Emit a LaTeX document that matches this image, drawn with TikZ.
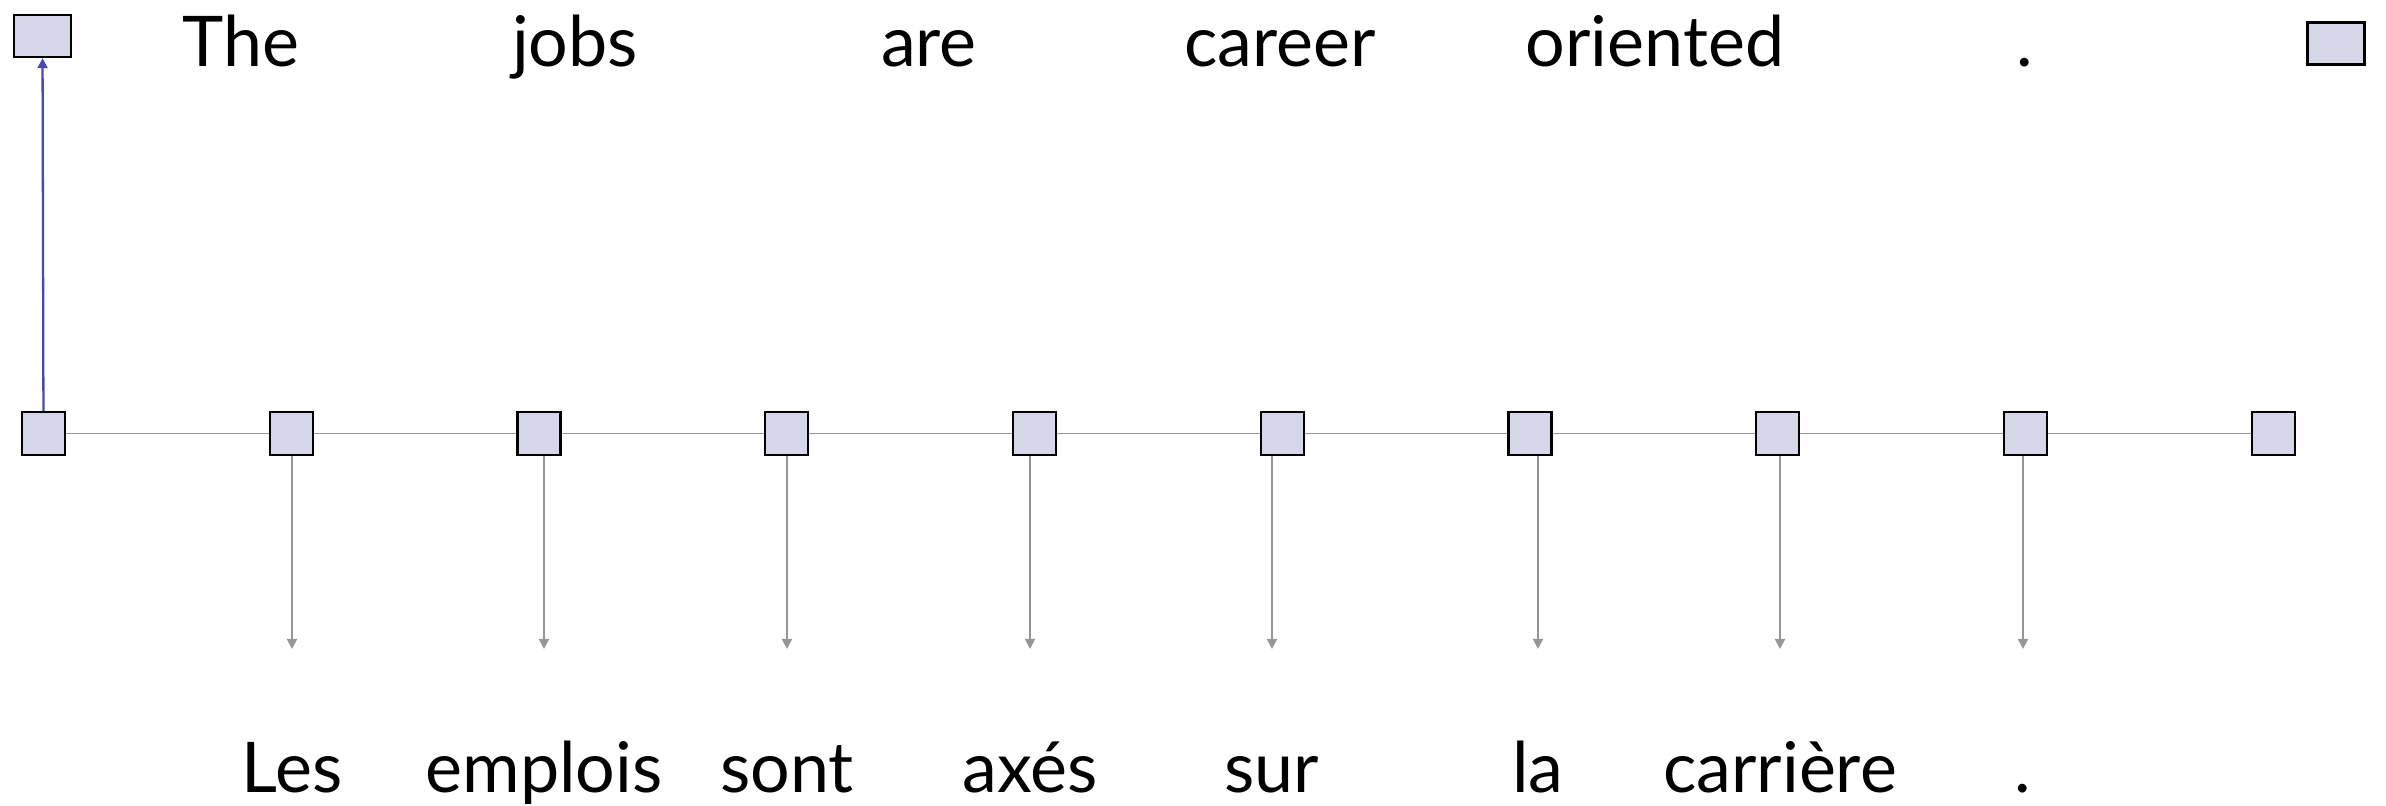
\documentclass[tikz,border=0pt]{standalone}
\usepackage{fontspec}
\setmainfont{Lato}
\usetikzlibrary{arrows.meta}
\definecolor{boxfill}{RGB}{214,214,233}
\definecolor{linkgray}{RGB}{150,150,150}
\definecolor{linkblue}{RGB}{72,72,180}
\tikzset{
  cell/.style={draw=black, line width=0.7pt, fill=boxfill, minimum size=0.43cm, inner sep=0pt},
  widecell/.style={cell, minimum width=0.57cm, minimum height=0.42cm},
  word/.style={anchor=base, inner sep=0pt, font=\fontsize{19.9}{24}\selectfont},
  chain/.style={draw=linkgray, line width=0.55pt},
  emit/.style={draw=linkgray, line width=0.55pt, -{Triangle[width=0.1cm,length=0.1cm]}},
  attend/.style={draw=linkblue, line width=0.65pt, -{Triangle[width=0.1cm,length=0.1cm]}}
}
\begin{document}
\begin{tikzpicture}
\useasboundingbox (0,0) rectangle (23.86,8.06);

% source sentence
\node[word] (s1) at (2.41,7.39) {The};
\node[word] (s2) at (5.75,7.39) {jobs};
\node[word] (s3) at (9.29,7.39) {are};
\node[word] (s4) at (12.80,7.39) {career};
\node[word] (s5) at (16.55,7.39) {oriented};
\node[word] (s6) at (20.25,7.39) {.};

% source-side states
\node[widecell] (e0) at (0.425,7.70) {};
\node[widecell] (e1) at (23.36,7.625) {};

% decoder states
\foreach \i in {0,...,9}
  \node[cell] (d\i) at ({0.435+2.4775*\i},3.725) {};

\foreach \i [evaluate=\i as \j using int(\i+1)] in {0,...,8}
  \draw[chain] (d\i) -- (d\j);

\draw[attend] (d0) -- (e0);

% emitted target words
\foreach \i/\x/\w in {1/2.92/Les, 2/5.44/emplois, 3/7.87/sont, 4/10.30/axés,
                      5/12.72/sur, 6/15.38/la, 7/17.80/carrière, 8/20.23/.}{
  \coordinate (o\i) at (\x,1.57);
  \node[word] (t\i) at (\x,0.13) {\w};
  \draw[emit] (d\i.south -| o\i) -- (o\i);
}
\end{tikzpicture}
\end{document}
